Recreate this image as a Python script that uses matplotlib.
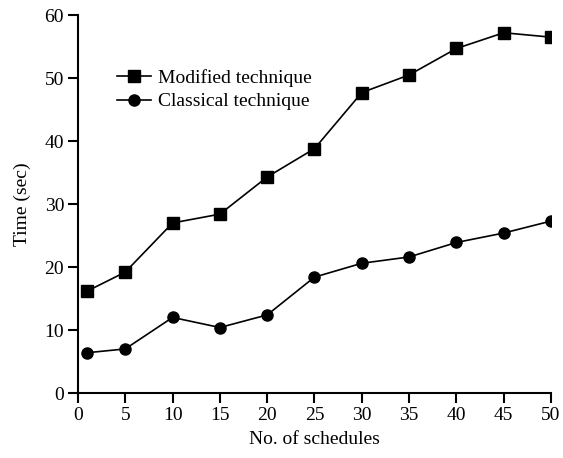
import matplotlib
matplotlib.use("Agg")
import matplotlib.pyplot as plt

plt.rcParams['font.family'] = ['Liberation Serif', 'DejaVu Serif']

schedules = [1, 5, 10, 15, 20, 25, 30, 35, 40, 45, 50]
modified = [16.2, 19.2, 27.0, 28.4, 34.3, 38.8, 47.7, 50.5, 54.7, 57.2, 56.5]
classical = [6.4, 7.0, 12.0, 10.4, 12.4, 18.4, 20.6, 21.6, 23.9, 25.4, 27.3]
xticks = [0, 5, 10, 15, 20, 25, 30, 35, 40, 45, 50]
yticks = [0, 10, 20, 30, 40, 50, 60]

fig = plt.figure(figsize=(5.63, 4.58), dpi=100)
ax = fig.add_axes([0.1385, 0.1419, 0.9787 - 0.1385, 0.967 - 0.1419])

ax.plot(schedules, modified, color='black', lw=1.2, marker='s', markersize=8.5,
        label='Modified technique')
ax.plot(schedules, classical, color='black', lw=1.2, marker='o', markersize=8,
        label='Classical technique')

ax.set_xlim(0, 50)
ax.set_ylim(0, 60)
ax.set_xticks(xticks)
ax.set_yticks(yticks)
for s in ['top', 'right']:
    ax.spines[s].set_visible(False)
for s in ['left', 'bottom']:
    ax.spines[s].set_linewidth(1.5)
ax.tick_params(direction='out', length=7, width=1.5, labelsize=14, pad=3)
ax.set_xlabel('No. of schedules', fontsize=14, labelpad=5)
ax.set_ylabel('Time (sec)', fontsize=14, labelpad=10)

leg = ax.legend(loc='upper left', bbox_to_anchor=(0.082, 0.857), frameon=False,
                fontsize=14, handlelength=1.75, handletextpad=0.35,
                labelspacing=0.3, borderaxespad=0, borderpad=0)

fig.savefig('out.png', dpi=100)
